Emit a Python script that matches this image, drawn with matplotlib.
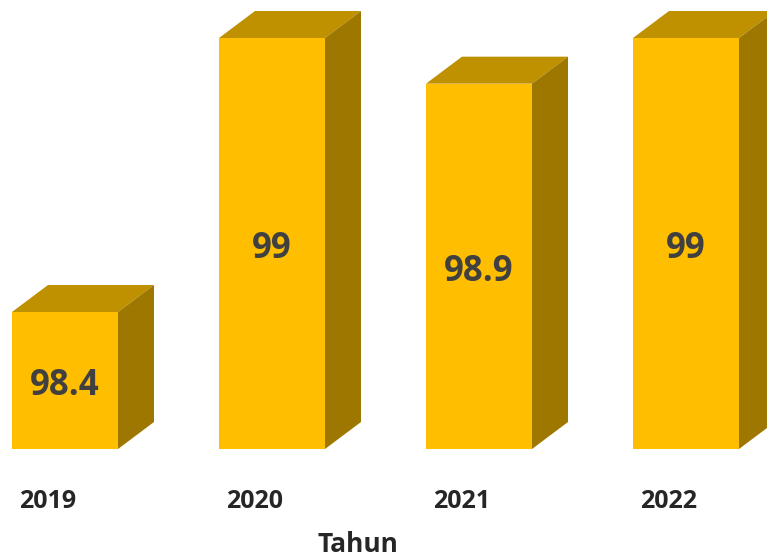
import matplotlib

matplotlib.use('Agg')
import matplotlib.pyplot as plt
from matplotlib.patches import Polygon

# --- Data ---
YEARS = ['2019', '2020', '2021', '2022']
VALUES = [98.4, 99, 98.9, 99]
VALUE_LABELS = ['98.4', '99', '98.9', '99']
X_LABEL = 'Tahun'

# --- Canvas in pixels ---
WIDTH, HEIGHT = 767, 557
BASE_VALUE = 98.1
BASE_PX = 449
PX_PER_UNIT = 274 / 0.6
FIRST_CENTER_PX = 65
STEP_PX = 207
BAR_W = 106 / STEP_PX
DEPTH_X = 36 / STEP_PX
DEPTH_Y = 27 / PX_PER_UNIT

FRONT = '#FFBE00'
TOP = '#BF9000'
SIDE = '#9E7700'
TEXT = '#404040'
AXIS_TEXT = '#262626'

plt.rcParams['font.family'] = ['Open Sans', 'DejaVu Sans']

fig = plt.figure(figsize=(WIDTH / 100, HEIGHT / 100), dpi=100, facecolor='white')
ax = fig.add_axes([0, 0, 1, 1])
ax.set_xlim(-FIRST_CENTER_PX / STEP_PX, (WIDTH - FIRST_CENTER_PX) / STEP_PX)
ax.set_ylim(BASE_VALUE - (HEIGHT - BASE_PX) / PX_PER_UNIT, BASE_VALUE + BASE_PX / PX_PER_UNIT)
ax.axis('off')

positions = range(len(VALUES))
ax.bar(positions, [v - BASE_VALUE for v in VALUES], bottom=BASE_VALUE, width=BAR_W, color=FRONT, zorder=3)

for i, v in enumerate(VALUES):
    left, right = i - BAR_W / 2, i + BAR_W / 2
    ax.add_patch(Polygon([(left, v), (right, v), (right + DEPTH_X, v + DEPTH_Y), (left + DEPTH_X, v + DEPTH_Y)],
                         closed=True, facecolor=TOP, edgecolor='none', zorder=2))
    ax.add_patch(Polygon([(right, BASE_VALUE), (right + DEPTH_X, BASE_VALUE + DEPTH_Y),
                          (right + DEPTH_X, v + DEPTH_Y), (right, v)],
                         closed=True, facecolor=SIDE, edgecolor='none', zorder=2))
    ax.text(i, (v + BASE_VALUE) / 2 - 6 / PX_PER_UNIT, VALUE_LABELS[i], ha='center', va='center',
            fontsize=25, fontweight='bold', color=TEXT, zorder=4)
    ax.text(i - 17 / STEP_PX, BASE_VALUE - 53 / PX_PER_UNIT, YEARS[i], ha='center', va='center',
            fontsize=18, fontweight='bold', color=AXIS_TEXT, zorder=4)

ax.text(293 / STEP_PX, BASE_VALUE - 96 / PX_PER_UNIT, X_LABEL, ha='center', va='center',
        fontsize=19, fontweight='bold', color=AXIS_TEXT, zorder=4)

fig.savefig('out.png', dpi=100)
plt.close(fig)
